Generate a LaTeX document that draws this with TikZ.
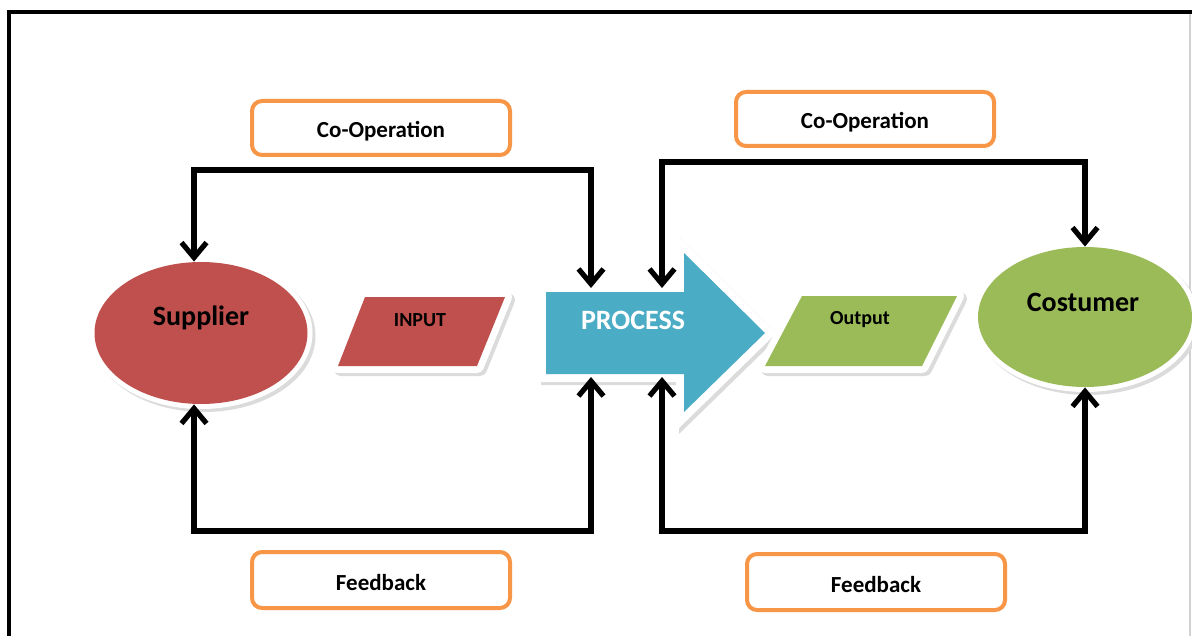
\documentclass[tikz,border=0pt]{standalone}
\usepackage{fontspec}
\setmainfont{Carlito}
\usetikzlibrary{arrows.meta,shapes.geometric,calc}
\definecolor{supred}{HTML}{C0504D}
\definecolor{procblue}{HTML}{4BACC6}
\definecolor{outgreen}{HTML}{9BBB59}
\definecolor{boxorange}{HTML}{F79646}
\begin{document}
\begin{tikzpicture}[x=0.5pt,y=-0.5pt,
  shade3d/.style={preaction={fill=black!14,draw=black!14,line width=#1,line join=round,transform canvas={shift={(1.5pt,-1.5pt)}}},
                  preaction={draw=white,line width=#1,line join=round}},
  shade3dm/.style={preaction={fill=black!14,draw=black!14,line width=#1,line join=miter,transform canvas={shift={(1.5pt,-1.5pt)}}},
                  preaction={draw=white,line width=#1,line join=miter}},
  obox/.style={draw=boxorange,line width=2pt,rounded corners=5pt,fill=white,
               minimum width=129pt,minimum height=27pt,inner sep=0pt,
               text height=10pt,text depth=0pt,
               font=\bfseries\fontsize{11.5}{13}\selectfont},
  bigtxt/.style={font=\bfseries\fontsize{14}{16}\selectfont,inner sep=0pt},
  smalltxt/.style={font=\bfseries\fontsize{10}{12}\selectfont,inner sep=0pt},
  conn/.style={draw,line width=2.6pt,line join=miter,
               {Straight Barb[length=7.5pt,width=12.5pt]}-{Straight Barb[length=7.5pt,width=12.5pt]}}]
\useasboundingbox (0,0) rectangle (1192,636);
\fill[white] (0,0) rectangle (1192,636);
% frame
\draw[line width=2.4pt,line join=miter] (9,636) -- (9,12) -- (1192,12);
\draw[black!18,line width=0.6pt] (1190,14) -- (1190,636);

% Supplier
\node[ellipse,fill=supred,minimum width=106.5pt,minimum height=71pt,inner sep=0pt,shade3d=5pt] (sup) at (201,333) {};
\node[bigtxt] (suptxt) at (201,318) {Supplier};

% INPUT
\path[fill=supred,shade3d=7pt] (365,297) -- (505,297) -- (477,366) -- (338,366) -- cycle;
\node[smalltxt] (intxt) at (420,320) {INPUT};

% PROCESS
\path[fill=procblue,shade3dm=8pt] (546,292) -- (684,292) -- (684,253) -- (765,333) -- (684,412) -- (684,374) -- (546,374) -- cycle;
\node[bigtxt,text=white] (proctxt) at (633,320) {PROCESS};
\coordinate (pA) at (591,288);
\coordinate (pB) at (662,288);
\coordinate (pC) at (591,377);
\coordinate (pD) at (662,377);

% Output
\path[fill=outgreen,shade3d=7pt] (802,296) -- (957,296) -- (922,366) -- (765,366) -- cycle;
\node[smalltxt] (outtxt) at (860,320) {Output};

% Costumer
\node[ellipse,fill=outgreen,minimum width=107pt,minimum height=70pt,inner sep=0pt,shade3d=5pt] (cus) at (1085,317) {};
\node[bigtxt] (custxt) at (1083,302) {Costumer};

% label boxes
\node[obox] (co1) at (381,128) {Co-Operation};
\node[obox] (co2) at (865,119) {Co-Operation};
\node[obox,minimum height=28pt] (fb1) at (381,580) {Feedback};
\node[obox,minimum height=28pt] (fb2) at (876,582) {Feedback};

% connectors
\draw[conn] ($(sup.north)+(-7,0)$) |- (pA |- 0,170) -- (pA);
\draw[conn] ($(sup.south)+(-7,0)$) |- (pC |- 0,531) -- (pC);
\draw[conn] (pB) |- (cus.north |- 0,162) -- (cus.north);
\draw[conn] (pD) |- (cus.south |- 0,531) -- (cus.south);
\end{tikzpicture}
\end{document}
